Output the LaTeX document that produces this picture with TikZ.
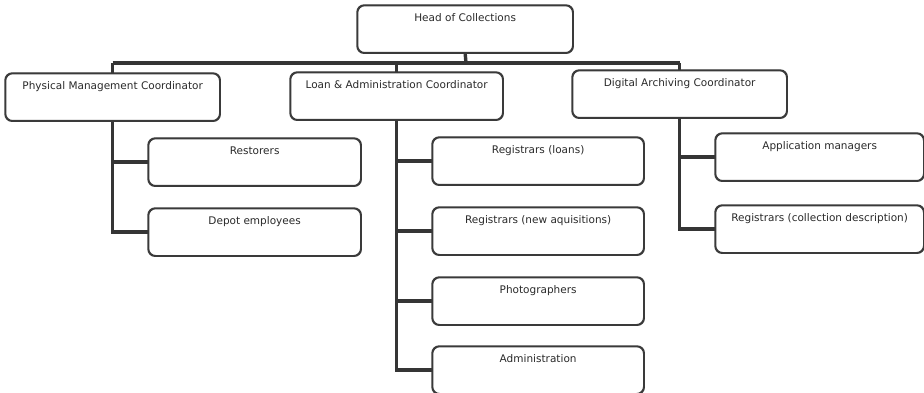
\documentclass[tikz,border=0pt]{standalone}
\usepackage{fontspec}
\setmainfont{DejaVu Sans}
\begin{document}
\begin{tikzpicture}[x=1pt,y=-1pt,
  orgbox/.style={draw=boxline, line width=1.3pt, rounded corners=7pt, fill=white,
    anchor=north west, inner xsep=0pt, inner ysep=0pt, minimum height=47pt,
    text height=16pt, text depth=31pt, text=txt,
    font=\fontsize{10.5pt}{12pt}\selectfont},
  link/.style={draw=linkcol, line width=3.4pt}]
\definecolor{boxline}{HTML}{3A3A3A}
\definecolor{linkcol}{HTML}{353535}
\definecolor{txt}{HTML}{2A2A2A}
\useasboundingbox (0,0) rectangle (924,393);

% top level
\node[orgbox, minimum width=215pt] (head) at (357,5) {Head of Collections};

% coordinators
\node[orgbox, minimum width=214pt] (pm)   at (5,73)   {Physical Management Coordinator};
\node[orgbox, minimum width=212pt] (loan) at (290,72) {Loan \& Administration Coordinator};
\node[orgbox, minimum width=214pt] (dig)  at (572,70) {Digital Archiving Coordinator};

% physical management staff
\node[orgbox, minimum width=212pt] (rest)  at (148,138) {Restorers};
\node[orgbox, minimum width=212pt] (depot) at (148,208) {Depot employees};

% loan & administration staff
\node[orgbox, minimum width=211pt] (regl)  at (432,137) {Registrars (loans)};
\node[orgbox, minimum width=211pt] (regn)  at (432,207) {Registrars (new aquisitions)};
\node[orgbox, minimum width=211pt] (photo) at (432,277) {Photographers};
\node[orgbox, minimum width=211pt] (admin) at (432,346) {Administration};

% digital archiving staff
\node[orgbox, minimum width=208pt] (app)  at (715,133) {Application managers};
\node[orgbox, minimum width=208pt] (regc) at (715,205) {Registrars (collection description)};

% connector bus
\coordinate (bus) at (466,63);
\draw[link] (head.south) -- (bus);
\draw[link] (pm.north |- bus) -- (dig.north |- bus);
\draw[link] (pm.north |- bus) -- (pm.north);
\draw[link] (loan.north |- bus) -- (loan.north);
\draw[link] (dig.north |- bus) -- (dig.north);

% branches to staff
\draw[link] (pm.south) |- (rest.west);
\draw[link] (pm.south) |- (depot.west);
\draw[link] (loan.south) |- (regl.west);
\draw[link] (loan.south) |- (regn.west);
\draw[link] (loan.south) |- (photo.west);
\draw[link] (loan.south) |- (admin.west);
\draw[link] (dig.south) |- (app.west);
\draw[link] (dig.south) |- (regc.west);

% redraw borders over line ends
\foreach \n in {head,pm,loan,dig,rest,depot,regl,regn,photo,admin,app,regc}
  \draw[boxline, line width=1.3pt, rounded corners=7pt] (\n.north west) rectangle (\n.south east);
\end{tikzpicture}
\end{document}
